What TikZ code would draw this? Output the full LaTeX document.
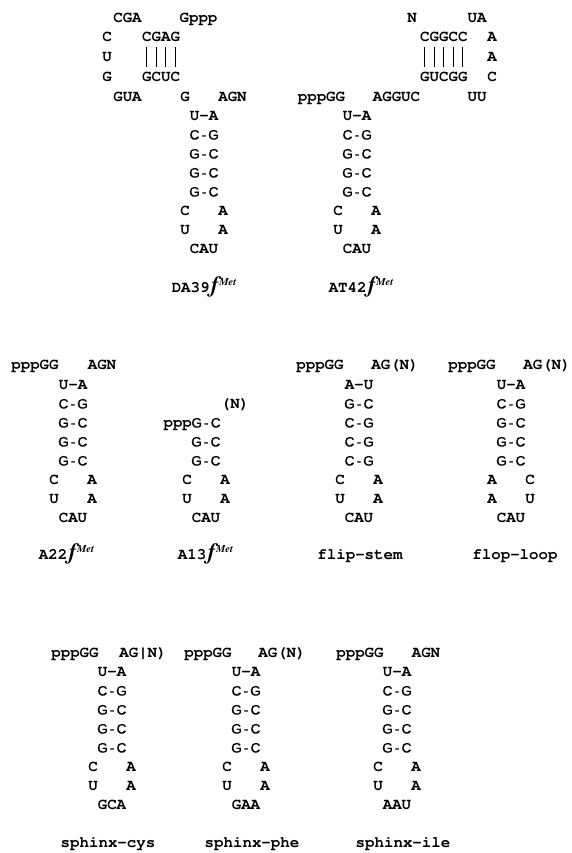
\documentclass[tikz,border=0pt]{standalone}
\usepackage[T1]{fontenc}
\usepackage{fontspec}
\newfontfamily\pairfam{Liberation Sans}[FakeBold=1.2]
% bold typewriter for sequences, sans for the inner base pairs
\newcommand\cbf{\fontencoding{T1}\fontfamily{pcr}\fontseries{b}\fontshape{n}\fontsize{15.8}{18}\selectfont}
\newcommand\pairf{\pairfam\fontseries{m}\fontshape{n}\fontsize{13.6}{16}\selectfont}
\newcommand\bp[2]{\makebox[9.5pt]{#1}\makebox[9.5pt]{-}\makebox[9.5pt]{#2}}
% italic f with superscript Met
\newcommand\fmet{{\fontencoding{T1}\fontfamily{ptm}\fontseries{b}\fontshape{it}\fontsize{23}{23}\selectfont\kern1.5pt f\kern0.5pt\raisebox{7.5pt}{\fontsize{10.5}{11}\selectfont Met}}}
% hairpin: prefix, centre x, first row y, pairs, mismatches, loop
\newcommand\hairpin[6]{%
  \foreach \l/\r [count=\i] in {#4} {%
    \ifnum\i=1 \node[seq] (#1-p\i) at (#2,{#3+(\i-1)*19}) {\bp{\l}{\r}};%
    \else \node[bpair] (#1-p\i) at (#2,{#3+(\i-1)*19}) {\bp{\l}{\r}};\fi}%
  \foreach \l/\r [count=\i] in {#5} {%
    \node[seq] (#1-l\i) at ({#2-19},{#3+(\i+4)*19}) {\l};%
    \node[seq] (#1-r\i) at ({#2+19},{#3+(\i+4)*19}) {\r};}%
  \node[seq] (#1-loop) at (#2,{#3+7*19}) {#6};}
\begin{document}
\begin{tikzpicture}[x=1pt,y=-1pt,
  seq/.style={font=\cbf, anchor=base, yshift=-4.5pt, inner sep=0pt},
  bpair/.style={font=\pairf, anchor=base, yshift=-4.5pt, inner sep=0pt},
  bond/.style={line width=1.1pt, shorten <=5pt, shorten >=5pt}]
\fill[white] (0,0) rectangle (571,853);
\useasboundingbox (0,0) rectangle (571,853);

% ---- DA39 fMet ----
\node[seq] (d-cga) at (127.5,18) {CGA};
\node[seq] (d-gppp) at (198.5,18) {Gppp};
\node[seq] (d-c) at (107,37) {C};
\node[seq] (d-u) at (107,57) {U};
\node[seq] (d-g) at (107,77) {G};
\foreach \ch [count=\i] in {C,G,A,G} \node[seq] (d-t\i) at ({137.25+\i*9.5},37) {\ch};
\foreach \ch [count=\i] in {G,C,U,C} \node[seq] (d-b\i) at ({137.25+\i*9.5},77) {\ch};
\foreach \i in {1,...,4} \draw[bond] (d-t\i) -- (d-b\i);
\node[seq] (d-gua) at (127.5,97) {GUA};
\node[seq] (d-g2) at (185,97) {G};
\node[seq] (d-agn) at (232.5,97) {AGN};
\hairpin{d}{204}{116}{U/A,C/G,G/C,G/C,G/C}{C/A,U/A}{CAU}
\node[seq] (d-name) at (204,288) {DA39\fmet};

% ---- AT42 fMet ----
\node[seq] (t-n) at (412,18) {N};
\node[seq] (t-ua) at (477,18) {UA};
\foreach \ch [count=\i] in {C,G,G,C,C} \node[seq] (t-t\i) at ({415.25+\i*9.5},37) {\ch};
\foreach \ch [count=\i] in {G,U,C,G,G} \node[seq] (t-b\i) at ({415.25+\i*9.5},77) {\ch};
\foreach \i in {1,...,5} \draw[bond] (t-t\i) -- (t-b\i);
\node[seq] (t-a1) at (492,37) {A};
\node[seq] (t-a2) at (492,57) {A};
\node[seq] (t-c) at (492,77) {C};
\node[seq] (t-ppp) at (321.5,97) {pppGG};
\node[seq] (t-agguc) at (396.5,97) {AGGUC};
\node[seq] (t-uu) at (477,97) {UU};
\hairpin{t}{357}{116}{U/A,C/G,G/C,G/C,G/C}{C/A,U/A}{CAU}
\node[seq] (t-name) at (361,288) {AT42\fmet};

% ---- A22 fMet ----
\node[seq] (a-ppp) at (35,365) {pppGG};
\node[seq] (a-agn) at (102,365) {AGN};
\hairpin{a}{73}{385}{U/A,C/G,G/C,G/C,G/C}{C/A,U/A}{CAU}
\node[seq] (a-name) at (66.5,555) {A22\fmet};

% ---- A13 fMet ----
\node[seq] (m-n) at (235,404) {(N)};
\node[seq] (m-p1) at (192,423) {ppp\pairf\bp{G}{C}};
\node[bpair] (m-p2) at (206,442) {\bp{G}{C}};
\node[bpair] (m-p3) at (206,461) {\bp{G}{C}};
\node[seq] (m-l1) at (187,480) {C};
\node[seq] (m-r1) at (225,480) {A};
\node[seq] (m-l2) at (187,499) {U};
\node[seq] (m-r2) at (225,499) {A};
\node[seq] (m-loop) at (206,518) {CAU};
\node[seq] (m-name) at (205.5,555) {A13\fmet};

% ---- flip-stem ----
\node[seq] (f-ppp) at (320,365) {pppGG};
\node[seq] (f-ag) at (395,365) {AG(N)};
\hairpin{f}{359}{385}{A/U,G/C,C/G,C/G,C/G}{C/A,U/A}{CAU}
\node[seq] (f-name) at (360,555) {flip-stem};

% ---- flop-loop ----
\node[seq] (o-ppp) at (472,365) {pppGG};
\node[seq] (o-ag) at (547,365) {AG(N)};
\hairpin{o}{511}{385}{U/A,C/G,G/C,G/C,G/C}{A/C,A/U}{CAU}
\node[seq] (o-name) at (515,555) {flop-loop};

% ---- sphinx-cys ----
\node[seq] (c-ppp) at (75,653) {pppGG};
\node[seq] (c-ag) at (143,653) {AG|N)};
\hairpin{c}{112}{672}{U/A,C/G,G/C,G/C,G/C}{C/A,U/A}{GCA}
\node[seq] (c-name) at (108,843) {sphinx-cys};

% ---- sphinx-phe ----
\node[seq] (h-ppp) at (208,653) {pppGG};
\node[seq] (h-ag) at (282,653) {AG(N)};
\hairpin{h}{246}{672}{U/A,C/G,G/C,G/C,G/C}{C/A,U/A}{GAA}
\node[seq] (h-name) at (252,843) {sphinx-phe};

% ---- sphinx-ile ----
\node[seq] (i-ppp) at (360,653) {pppGG};
\node[seq] (i-agn) at (426,653) {AGN};
\hairpin{i}{397}{672}{U/A,C/G,G/C,G/C,G/C}{C/A,U/A}{AAU}
\node[seq] (i-name) at (403,843) {sphinx-ile};
\end{tikzpicture}
\end{document}
